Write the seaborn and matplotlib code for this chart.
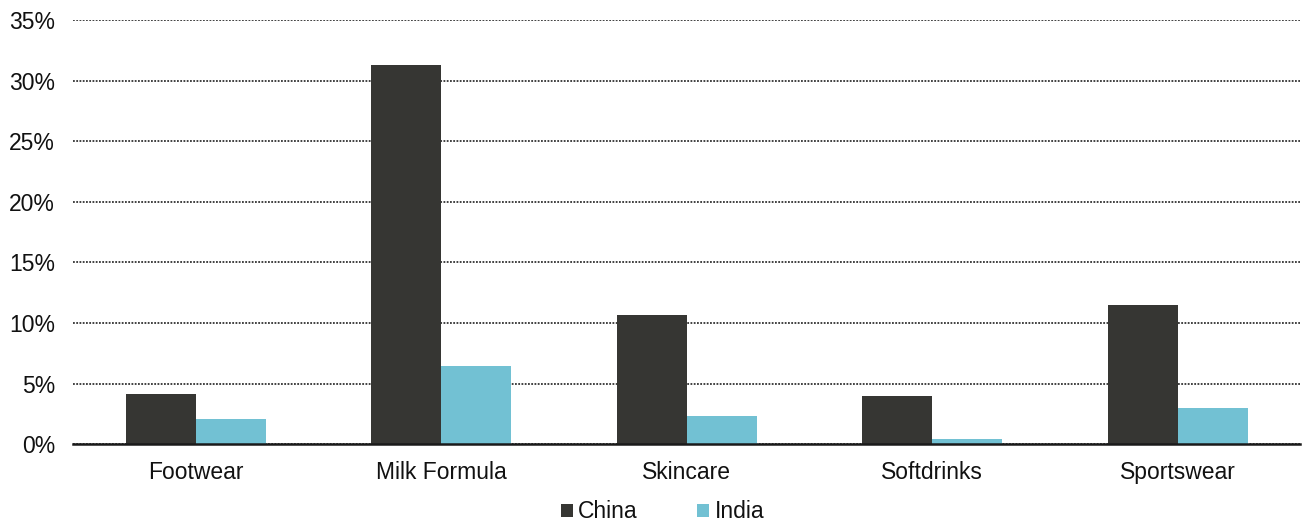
import matplotlib
matplotlib.use("Agg")
import matplotlib.pyplot as plt
from matplotlib.ticker import FuncFormatter, MultipleLocator
import seaborn as sns
import pandas as pd

categories = ["Footwear", "Milk Formula", "Skincare", "Softdrinks", "Sportswear"]
china = [4.1, 31.3, 10.65, 4.0, 11.5]
india = [2.1, 6.45, 2.3, 0.45, 2.95]
series_names = ["China", "India"]
colors = ["#363633", "#72c1d3"]

df = pd.DataFrame({
    "category": categories * 2,
    "share": china + india,
    "country": [series_names[0]] * len(categories) + [series_names[1]] * len(categories),
})

sns.set_theme(style="white")
plt.rcParams["font.family"] = ["Liberation Sans", "DejaVu Sans"]

fig = plt.figure(figsize=(13.07, 5.25), dpi=100)
ax = fig.add_axes([0.056, 0.154, 0.939, 0.808])

sns.barplot(data=df, x="category", y="share", hue="country", order=categories,
            hue_order=series_names, palette=colors, width=0.57, saturation=1,
            linewidth=0, ax=ax, zorder=3)

ax.set_ylim(0, 35)
ax.set_xlim(-0.5, 4.5)
ax.yaxis.set_major_locator(MultipleLocator(5))
ax.yaxis.set_major_formatter(FuncFormatter(lambda v, _: f"{v:.0f}%"))
ax.grid(axis="y", linestyle=(0, (1, 0.8)), color="#333333", linewidth=1.3, zorder=0)
ax.set_axisbelow(True)

for side in ["top", "right", "left"]:
    ax.spines[side].set_visible(False)
ax.spines["bottom"].set_color("#1a1a1a")
ax.spines["bottom"].set_linewidth(1.8)
ax.spines["bottom"].set_zorder(5)

ax.set_xlabel("")
ax.set_ylabel("")
ax.tick_params(axis="both", length=0, labelsize=16.5, colors="#111111")
ax.tick_params(axis="x", pad=12)
ax.tick_params(axis="y", pad=13)

handles, labels = ax.get_legend_handles_labels()
ax.legend_.remove()
fig.legend(handles, labels, loc="lower center", bbox_to_anchor=(0.507, -0.036),
           ncol=2, frameon=False, fontsize=16.5, handlelength=0.5, handleheight=0.5,
           handletextpad=0.25, columnspacing=2.6, labelcolor="#111111")

fig.savefig("out.png", dpi=100)
